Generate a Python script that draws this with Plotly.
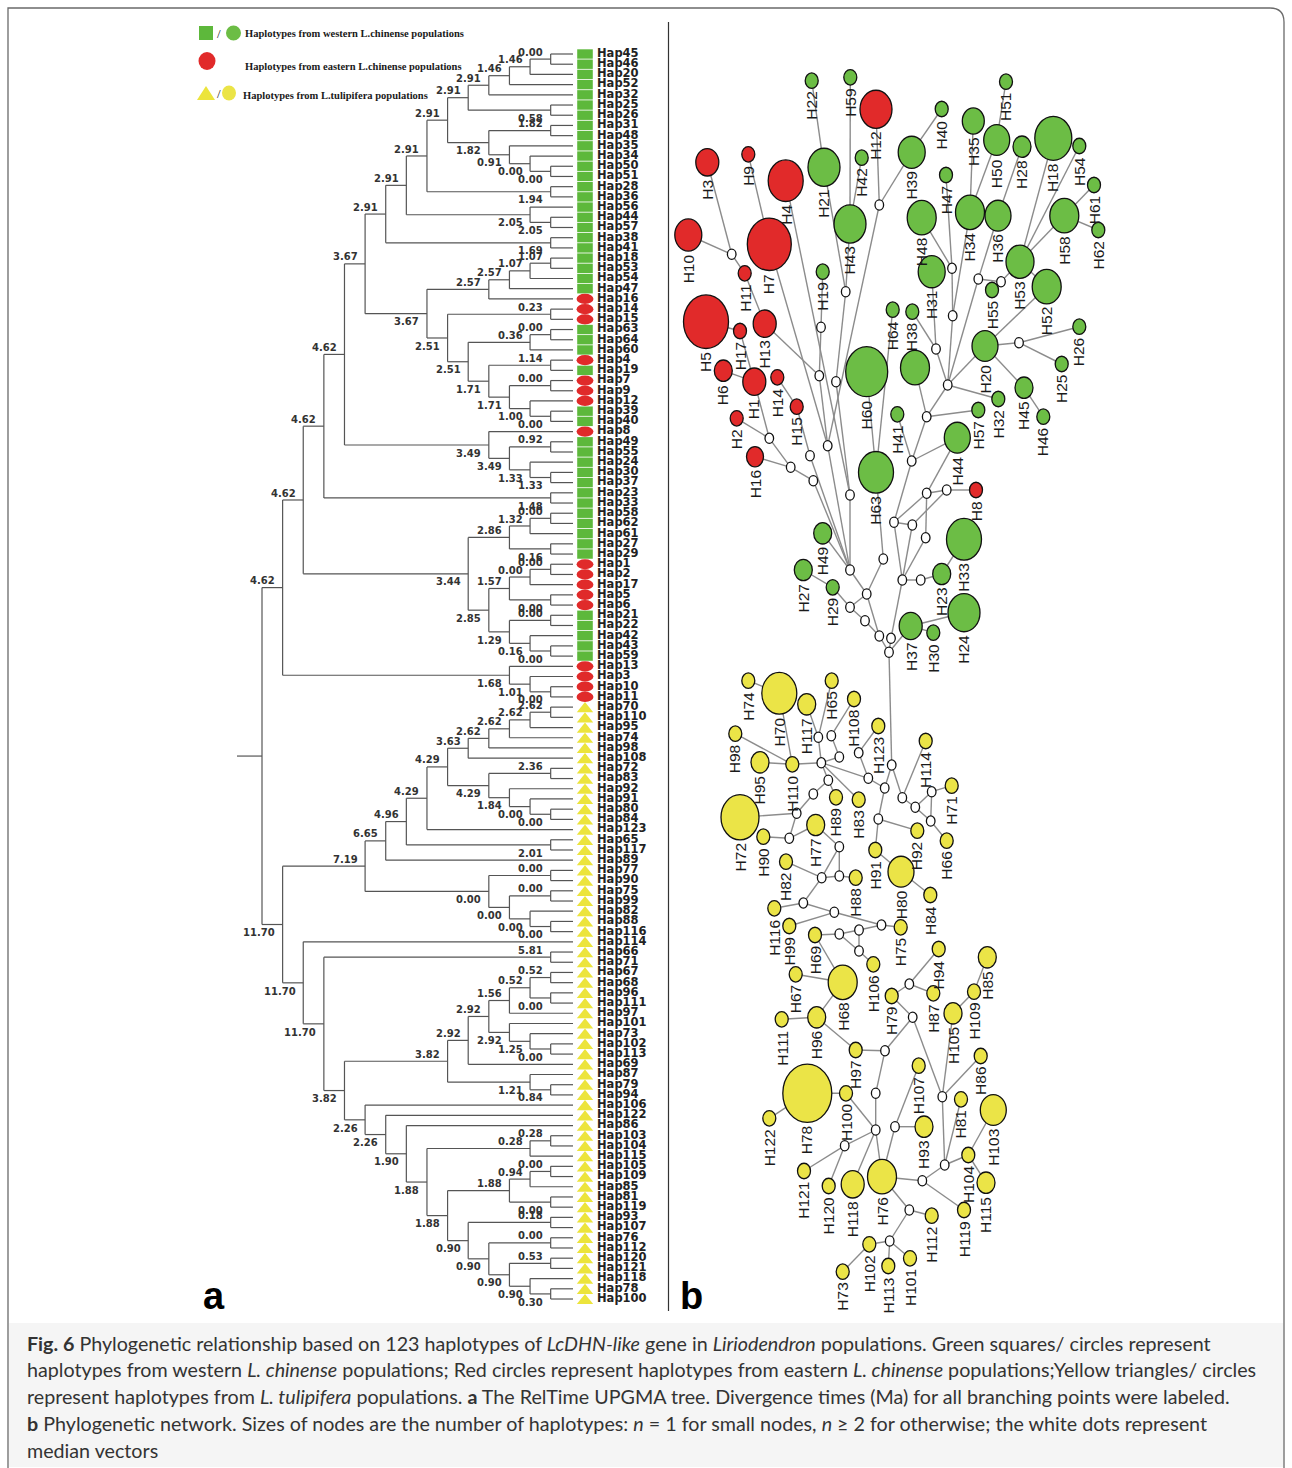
import plotly.graph_objects as go

W, H = 1292, 1468

# ======================= DATA =======================
# ---- Panel a: RelTime UPGMA tree (topology + divergence-time labels) ----
w_468 = "(((((Hap45,Hap46)0.00,Hap20)1.46,Hap52)1.46,Hap32)2.91,(Hap25,Hap26)0.58)2.91"
w_488 = "((Hap31,Hap48)1.82,(Hap35,(Hap34,(Hap50,Hap51)0.00)0.00)0.91)1.82"
w_447 = f"({w_468},{w_488})2.91"
w_427 = f"({w_447},(Hap28,Hap36)1.94)2.91"
w_407 = f"({w_427},(Hap56,(Hap44,Hap57)2.05)2.05)2.91"
w_F = f"({w_407},(Hap38,Hap41)1.69)2.91"
g_up = "((((Hap18,Hap53)1.07,Hap54)1.07,Hap47)2.57,Hap16)2.57"
g_509 = "((Hap7,Hap9)0.00,(Hap12,(Hap39,Hap40)0.00)1.00)1.71"
g_488 = f"((Hap4,Hap19)1.14,{g_509})1.71"
g_468 = f"(((Hap63,Hap64)0.00,Hap60)0.36,{g_488})2.51"
g_low = f"((Hap14,Hap15)0.23,{g_468})2.51"
w_G = f"({g_up},{g_low})3.67"
w_E = f"({w_F},{w_G})3.67"
w_H8 = "(Hap8,((Hap49,Hap55)0.92,(Hap24,(Hap30,Hap37)1.33)1.33)3.49)3.49"
w_D = f"({w_E},{w_H8})4.62"
w_C = f"({w_D},(Hap23,Hap33)1.48)4.62"
n344_up = "(((Hap58,Hap62)0.00,Hap61)1.32,(Hap27,Hap29)0.16)2.86"
n344_lo = ("((((Hap1,Hap2)0.00,Hap17)0.00,(Hap5,Hap6)0.00)1.57,"
           "((Hap21,Hap22)0.00,(Hap42,(Hap43,Hap59)0.00)0.16)1.29)2.85")
w_344 = f"({n344_up},{n344_lo})3.44"
w_B = f"({w_C},{w_344})4.62"
w_13 = "(Hap13,(Hap3,(Hap10,Hap11)0.00)1.01)1.68"
clade_chinense = f"({w_B},{w_13})4.62"

t_468 = "(((((Hap70,Hap110)2.62,Hap95)2.62,Hap74)2.62,Hap98)2.62,Hap108)3.63"
t_488 = "((Hap72,Hap83)2.36,(Hap92,(Hap91,(Hap80,Hap84)0.00)0.00)1.84)4.29"
t_427 = f"(({t_468},{t_488})4.29,Hap123)4.29"
t_386 = f"(({t_427},(Hap65,Hap117)2.01)4.96,Hap89)6.65"
t_488b = "((Hap77,Hap90)0.00,((Hap75,Hap99)0.00,(Hap82,(Hap88,Hap116)0.00)0.00)0.00)0.00"
t_719 = f"({t_386},{t_488b})7.19"
c_530 = "((Hap67,Hap68)0.52,(Hap96,Hap111)0.00)0.52"
c_488 = f"(({c_530},Hap97)1.56,(Hap101,(Hap73,(Hap102,Hap113)0.00)1.25)2.92)2.92"
c_447 = f"(({c_488},Hap69)2.92,(Hap87,(Hap79,Hap94)0.84)1.21)3.82"
d_509 = "((Hap120,Hap121)0.53,(Hap118,(Hap78,Hap100)0.30)0.90)0.90"
d_468 = f"((Hap93,Hap107)0.18,((Hap76,Hap112)0.00,{d_509})0.90)0.90"
d_447 = f"((((Hap105,Hap109)0.00,Hap85)0.94,(Hap81,Hap119)0.00)1.88,{d_468})1.88"
d_427 = f"(((Hap103,Hap104)0.28,Hap115)0.28,{d_447})1.88"
d_365 = f"(Hap106,(Hap122,(Hap86,{d_427})1.90)2.26)2.26"
t_345 = f"({c_447},{d_365})3.82"
t_303 = f"(Hap114,((Hap66,Hap71)5.81,{t_345})11.70)11.70"
clade_tulipifera = f"({t_719},{t_303})11.70"
tree_newick = f"({clade_chinense},{clade_tulipifera});"

eastern_haps = list(range(1, 18))      # red
western_haps = list(range(18, 65))     # green
tulipifera_haps = list(range(65, 124)) # yellow

# ---- Panel b: haplotype network (layout coordinates, node size = diameter) ----
net_red = [("H12", 876, 109.3, 32), ("H3", 707.3, 162.3, 23), ("H9", 748.3, 154.3, 13),
           ("H4", 785.7, 180.7, 35), ("H10", 688.3, 235, 27), ("H7", 769.3, 244.3, 44),
           ("H11", 744.7, 273.3, 13), ("H5", 706, 321.7, 45), ("H17", 740, 331, 13),
           ("H13", 764.7, 323.7, 23), ("H6", 723.3, 370.7, 18), ("H1", 754.3, 381.7, 23),
           ("H14", 777.3, 377.3, 13), ("H15", 796.7, 406.7, 13), ("H2", 736.7, 418.3, 13),
           ("H16", 755, 456.7, 17), ("H8", 976, 490, 13)]
net_green = [("H22", 811.7, 80.7, 13), ("H59", 850.3, 77.3, 13), ("H40", 941.7, 109, 13),
             ("H35", 973.3, 121, 22), ("H51", 1006, 81.7, 13), ("H50", 996.7, 140, 26),
             ("H28", 1022, 146.7, 18), ("H18", 1053.3, 138.3, 37), ("H54", 1079.3, 146, 13),
             ("H61", 1094, 185, 13), ("H62", 1098.3, 230, 13), ("H58", 1064.3, 215.7, 29),
             ("H21", 824, 167.3, 32), ("H42", 861.7, 157.7, 13), ("H39", 911.7, 152.3, 27),
             ("H47", 946, 175, 13), ("H43", 850, 224, 32), ("H48", 921.7, 217.7, 29),
             ("H34", 970, 212.3, 29), ("H36", 998, 215.7, 26), ("H53", 1020, 261.7, 28),
             ("H19", 822.7, 271.7, 13), ("H31", 931.7, 271.7, 27), ("H52", 1046.7, 286.7, 29),
             ("H55", 992, 290, 13), ("H64", 892.7, 309.7, 13), ("H38", 912.3, 311.7, 13),
             ("H20", 985, 346, 26), ("H26", 1079.3, 326.7, 13), ("H25", 1061.7, 364, 13),
             ("H60", 866.7, 371.7, 42), ("H56", 915, 367.7, 29), ("H41", 897.3, 414.3, 13),
             ("H57", 978.3, 410, 13), ("H32", 998.3, 399, 13), ("H45", 1024, 387.7, 18),
             ("H46", 1043.3, 416.7, 13), ("H44", 957.3, 437.7, 26), ("H63", 876, 472.3, 35),
             ("H33", 964, 539.3, 35), ("H49", 822.7, 533.3, 18), ("H27", 803.3, 570, 18),
             ("H29", 832.7, 587.3, 13), ("H23", 941.7, 574, 18), ("H24", 964, 612.7, 32),
             ("H37", 910.7, 626, 23), ("H30", 933.3, 632.7, 13)]
net_yellow = [("H74", 748.3, 680.7, 13), ("H70", 779.3, 693.3, 35), ("H65", 831.7, 680.7, 13),
              ("H117", 806.7, 704.3, 18), ("H108", 854, 699, 13), ("H123", 878.3, 726, 13),
              ("H98", 735.3, 733.7, 13), ("H114", 925.7, 741, 13), ("H95", 760, 762.3, 18),
              ("H110", 792.3, 764.3, 13), ("H71", 951.7, 785.7, 13), ("H89", 836, 797.3, 13),
              ("H83", 858.7, 799.7, 13), ("H72", 740, 817.3, 38), ("H90", 763.3, 836.7, 13),
              ("H77", 815.7, 825, 18), ("H92", 917.3, 830.7, 13), ("H66", 946.7, 840.7, 13),
              ("H91", 875.3, 850, 13), ("H80", 901, 871.7, 26), ("H82", 786, 861.7, 13),
              ("H88", 855.7, 877.7, 13), ("H84", 930.3, 895, 13), ("H116", 774.3, 908.3, 13),
              ("H99", 789.3, 926, 13), ("H75", 900.7, 927.3, 13), ("H69", 815, 935, 13),
              ("H106", 873.3, 964.3, 13), ("H67", 795.7, 974.3, 13), ("H68", 842.7, 982.3, 29),
              ("H94", 938.7, 949, 13), ("H85", 987.3, 957.3, 18), ("H79", 891.7, 996, 13),
              ("H87", 933.3, 993.3, 13), ("H109", 974, 991.7, 13), ("H105", 953, 1013.3, 18),
              ("H111", 781.7, 1019.3, 13), ("H96", 816.7, 1017.3, 18), ("H97", 855.7, 1050, 13),
              ("H86", 980.7, 1056, 13), ("H107", 918.7, 1065.7, 13), ("H78", 807.3, 1093.3, 49),
              ("H100", 846, 1093.3, 13), ("H81", 961, 1099.3, 13), ("H103", 993.3, 1110, 26),
              ("H122", 769.3, 1118.3, 13), ("H93", 924, 1126.7, 18), ("H121", 804, 1171, 13),
              ("H120", 828.7, 1186, 13), ("H118", 852.7, 1184.3, 23), ("H76", 882, 1176.7, 29),
              ("H104", 968.3, 1155, 13), ("H115", 986, 1182.7, 18), ("H119", 964, 1210, 13),
              ("H112", 931.7, 1215.7, 13), ("H102", 869.3, 1244.3, 13), ("H113", 888.3, 1266, 13),
              ("H101", 910, 1258.3, 13), ("H73", 842.7, 1271.7, 13)]
net_median = [("m1", 879.3, 205), ("m2", 731.7, 254.3), ("m3", 952, 268.3), ("m4", 978.3, 279),
              ("m5", 1001, 281.7), ("m6", 845.7, 291.7), ("m7", 952.7, 315.7), ("m8", 821, 327.3),
              ("m9", 1019, 342.7), ("m10", 936, 349), ("m11", 819.3, 375.7), ("m12", 836, 381.7),
              ("m13", 947.7, 385), ("m14", 926.7, 416.7), ("m15", 769.3, 438.3), ("m16", 827.7, 445.7),
              ("m17", 810, 455.7), ("m18", 911.7, 461), ("m19", 790.7, 467.3), ("m20", 813.3, 480.7),
              ("m21", 850, 495), ("m22", 926.7, 493.3), ("m23", 946.7, 490), ("m24", 894, 522.3),
              ("m25", 912.3, 525), ("m26", 925.7, 537.7), ("m27", 883.3, 559), ("m28", 850, 570),
              ("m29", 902.3, 580), ("m30", 920.7, 580), ("m31", 866.7, 594), ("m32", 850, 607.3),
              ("m33", 865, 620.7), ("m34", 879.3, 636), ("m35", 891, 638.3), ("m36", 889, 652.3),
              ("t1", 818.3, 737.3), ("t2", 831.3, 735.7), ("t3", 858.7, 752.7), ("t4", 839.3, 757),
              ("t5", 821.3, 762.7), ("t6", 891.7, 765), ("t7", 868.3, 778.3), ("t8", 828.3, 780.3),
              ("t9", 884.7, 788), ("t10", 931.7, 791.7), ("t11", 813.3, 794), ("t12", 902.3, 797.7),
              ("t13", 915.3, 807.3), ("t14", 796.7, 813.3), ("t15", 878.3, 819), ("t16", 930.7, 821),
              ("t17", 789.3, 838.3), ("t18", 839.3, 846.7), ("t19", 839.3, 876), ("t20", 821.7, 877.7),
              ("t21", 803.3, 903), ("t22", 834.3, 912.3), ("t23", 881.5, 925), ("t24", 859, 930),
              ("t25", 839.3, 934), ("t26", 859, 951), ("t27", 909.3, 984), ("t28", 912.7, 1017.3),
              ("t29", 885, 1050.7), ("t30", 875.7, 1093.3), ("t31", 942.3, 1096.7), ("t32", 895, 1126.7),
              ("t33", 875.7, 1130), ("t34", 844.7, 1145.7), ("t35", 944.7, 1165), ("t36", 922.3, 1180.7),
              ("t37", 909.3, 1210), ("t38", 889.7, 1241)]
net_edges = [
    ("H22", "H21"), ("H21", "m6"), ("H43", "m6"), ("H59", "H43"), ("H42", "H43"),
    ("H12", "m1"), ("H39", "m1"), ("H40", "H39"), ("m1", "m16"),
    ("H3", "m2"), ("H10", "m2"), ("m2", "H11"), ("H11", "H13"), ("H13", "m11"),
    ("H9", "H7"), ("H7", "m16"), ("H4", "m21"), ("H5", "H17"), ("H17", "H1"), ("H6", "H1"),
    ("H1", "m15"), ("H2", "m15"), ("m15", "m19"), ("H16", "m19"), ("m19", "m20"), ("m20", "m28"),
    ("H14", "H15"), ("H15", "m17"), ("m17", "m28"), ("H19", "m8"), ("m8", "m11"), ("m6", "m12"),
    ("m11", "m16"), ("m12", "m21"), ("m16", "m28"), ("m21", "m28"),
    ("H63", "m27"), ("H64", "H63"), ("H60", "H63"), ("m27", "m31"), ("m28", "m31"), ("H49", "m28"),
    ("H27", "H29"), ("H29", "m32"), ("m32", "m31"), ("m32", "m33"), ("m33", "m34"), ("m31", "m34"),
    ("m34", "m36"), ("m35", "m36"), ("m35", "m29"), ("m36", "H37"), ("H37", "H24"), ("H37", "H30"),
    ("m29", "m30"), ("m30", "H23"), ("H23", "H33"), ("m29", "m24"), ("m29", "m25"), ("m29", "m26"),
    ("m24", "m25"), ("m24", "m22"), ("m25", "m23"), ("m26", "m22"), ("m22", "m23"), ("m23", "H8"),
    ("m18", "m24"), ("m18", "H44"), ("m18", "H41"), ("m18", "m14"), ("H44", "m22"), ("m14", "H57"),
    ("H56", "m14"), ("m14", "m13"), ("m13", "H20"), ("m13", "H32"), ("m13", "m10"), ("m13", "m7"),
    ("m13", "m4"), ("m10", "H38"), ("m10", "H31"), ("H48", "m3"), ("H47", "m3"), ("m3", "m7"),
    ("H34", "m7"), ("H35", "H34"), ("H50", "H34"), ("H51", "H50"), ("H28", "H36"), ("H36", "m4"),
    ("m4", "m5"), ("m5", "H53"), ("H55", "m5"), ("H53", "H18"), ("H53", "H58"), ("H53", "H54"),
    ("H58", "H61"), ("H58", "H62"), ("H52", "H20"), ("H53", "H52"), ("H20", "m9"), ("m9", "H26"),
    ("m9", "H25"), ("H20", "H45"), ("H45", "H46"),
    ("m36", "t6"),
    ("H74", "H70"), ("H70", "H110"), ("H98", "H110"), ("H95", "H110"), ("H110", "t5"),
    ("H117", "t1"), ("H65", "t1"), ("H108", "t2"), ("t1", "t5"), ("t2", "t4"), ("t4", "t5"),
    ("t5", "t7"), ("H123", "t3"), ("t3", "t7"), ("t7", "t9"), ("t9", "t15"), ("t6", "t9"),
    ("t6", "t12"), ("H114", "t12"), ("t12", "t13"), ("t13", "t10"), ("t10", "H71"), ("t10", "t16"),
    ("t13", "t16"), ("t16", "H66"), ("t15", "H92"), ("t15", "H91"), ("H91", "H80"), ("H80", "H84"),
    ("t5", "t8"), ("t8", "t11"), ("t5", "H83"), ("t11", "t14"), ("t14", "H72"), ("t14", "t17"),
    ("H90", "t17"), ("t17", "H77"), ("H77", "t18"), ("t18", "t19"), ("t18", "t20"), ("t20", "t19"),
    ("t19", "H88"), ("H82", "t20"), ("t20", "t21"), ("t21", "H116"), ("t21", "t22"), ("t22", "t23"),
    ("t22", "H99"), ("H89", "t8"), ("t23", "H75"), ("t23", "t24"), ("t24", "t25"), ("t25", "H69"),
    ("t24", "t26"), ("t25", "t26"), ("t26", "H106"), ("H69", "H68"), ("H67", "H68"), ("H68", "H96"),
    ("H111", "H96"), ("H96", "H97"), ("H97", "t29"), ("t29", "t28"), ("t28", "H79"), ("H79", "t27"),
    ("t27", "H94"), ("t27", "H87"), ("t28", "t31"), ("H105", "t31"), ("H105", "H109"),
    ("H109", "H85"), ("H86", "t31"), ("t29", "t30"), ("t30", "t33"), ("H100", "t33"),
    ("H78", "H100"), ("H78", "H122"), ("t33", "H76"), ("H107", "t32"), ("t32", "H93"),
    ("t32", "H76"), ("t31", "t35"), ("H81", "t35"), ("H103", "H104"), ("H104", "t35"),
    ("H104", "H115"), ("t35", "t36"), ("t36", "H76"), ("t36", "H119"), ("H76", "t37"),
    ("t37", "H112"), ("t37", "t38"), ("t38", "H102"), ("t38", "H113"), ("t38", "H101"),
    ("H102", "H73"), ("t34", "H121"), ("t34", "H120"), ("t34", "t33"), ("H118", "t33"),
]
hidden_labels = ["H56"]

legend_texts = ["Haplotypes from western L.chinense populations",
                "Haplotypes from eastern L.chinense populations",
                "Haplotypes from L.tulipifera populations"]
caption_lines = [
    "<b>Fig. 6</b> Phylogenetic relationship based on 123 haplotypes of <i>LcDHN-like</i> gene in <i>Liriodendron</i> populations. Green squares/ circles represent",
    "haplotypes from western <i>L. chinense</i> populations; Red circles represent haplotypes from eastern <i>L. chinense</i> populations;Yellow triangles/ circles",
    "represent haplotypes from <i>L. tulipifera</i> populations. <b>a</b> The RelTime UPGMA tree. Divergence times (Ma) for all branching points were labeled.",
    "<b>b</b> Phylogenetic network. Sizes of nodes are the number of haplotypes: <i>n</i> = 1 for small nodes, <i>n</i> \u2265 2 for otherwise; the white dots represent",
    "median vectors",
]

# ======================= STYLE =======================
RED, GREEN, YELLOW = "#e12a2a", "#6cbd45", "#ebe447"
TREE_RED, TREE_GREEN, TREE_YELLOW = "#e02a2a", "#5db83b", "#ece43c"
PX_LEAF, STEP = 571.3, 20.62       # tree: px of level 0 and px per level
ROW0, ROW = 54.0, 10.205            # tree: px of first leaf row, px per row
ASPECT = 1.19                      # network ellipses height/width


def parse_newick(s):
    s = s.strip().rstrip(';')
    pos = [0]

    def read_label():
        st = pos[0]
        while pos[0] < len(s) and s[pos[0]] not in ',()':
            pos[0] += 1
        return s[st:pos[0]]

    def node():
        if s[pos[0]] == '(':
            pos[0] += 1
            kids = [node()]
            while s[pos[0]] == ',':
                pos[0] += 1
                kids.append(node())
            pos[0] += 1
            return {'kids': kids, 'label': read_label()}
        return {'kids': [], 'label': read_label()}
    return node()


root = parse_newick(tree_newick)
leaves = []


def layout(n):
    if not n['kids']:
        n['y'] = len(leaves)
        n['h'] = 0
        leaves.append(n)
        return
    for k in n['kids']:
        layout(k)
    n['h'] = max(k['h'] for k in n['kids']) + 1
    n['y'] = (n['kids'][0]['y'] + n['kids'][-1]['y']) / 2


layout(root)

LEAF_END = -1.7 / STEP
fig = go.Figure()

# ---- tree branches ----
tx, ty = [], []
node_labels = []


def draw(n):
    if not n['kids']:
        return
    x = n['h']
    tx.extend([x, x, None])
    ty.extend([n['kids'][0]['y'], n['kids'][-1]['y'], None])
    for i, k in enumerate(n['kids']):
        kx = LEAF_END if not k['kids'] else k['h']
        tx.extend([x, kx, None])
        ty.extend([k['y'], k['y'], None])
        if k['kids']:
            node_labels.append((k['h'], k['y'], k['label'], i == 0))
        draw(k)


draw(root)
tx.extend([(PX_LEAF - 237) / STEP, root['h'], None])
ty.extend([root['y'], root['y'], None])
fig.add_trace(go.Scatter(x=tx, y=ty, mode='lines', line=dict(color='#555555', width=1.2),
                         hoverinfo='skip', showlegend=False, xaxis='x', yaxis='y'))

annotations = []
for h, y, lab, upper in node_labels:
    annotations.append(dict(x=h + 5.5 / STEP, y=y + (-0.68 if upper else 0.8), text=lab,
                            xref='x', yref='y', showarrow=False, xanchor='right', yanchor='middle',
                            font=dict(family='DejaVu Sans', size=10, color='#333333', weight='bold')))

# leaf labels
fig.add_trace(go.Scatter(x=[(PX_LEAF - 597) / STEP] * len(leaves), y=[l['y'] for l in leaves],
                         text=[l['label'] for l in leaves], mode='text', textposition='middle right',
                         textfont=dict(family='DejaVu Sans', size=11.5, color='#222222', weight='bold'),
                         hoverinfo='skip', showlegend=False, xaxis='x', yaxis='y'))

shapes = []
cx = (PX_LEAF - 585) / STEP
hw = 7.8 / STEP
for l in leaves:
    num = int(l['label'][3:])
    y = l['y']
    if num in eastern_haps:
        shapes.append(dict(type='circle', xref='x', yref='y', x0=cx - hw - 0.03, x1=cx + hw + 0.03,
                           y0=y - 0.5, y1=y + 0.5, fillcolor=TREE_RED, line=dict(width=0)))
    elif num in western_haps:
        shapes.append(dict(type='rect', xref='x', yref='y', x0=cx - hw, x1=cx + hw,
                           y0=y - 0.46, y1=y + 0.46, fillcolor=TREE_GREEN, line=dict(width=0)))
    else:
        p = f"M {cx - hw - 0.02},{y + 0.5} L {cx},{y - 0.5} L {cx + hw + 0.02},{y + 0.5} Z"
        shapes.append(dict(type='path', xref='x', yref='y', path=p, fillcolor=TREE_YELLOW,
                           line=dict(width=0)))

# ---- network ----
pos = {}
for grp in (net_red, net_green, net_yellow):
    for name, x, y, d in grp:
        pos[name] = (x, y)
for name, x, y in net_median:
    pos[name] = (x, y)

ex, ey = [], []
for a, b in net_edges:
    ex.extend([pos[a][0], pos[b][0], None])
    ey.extend([pos[a][1], pos[b][1], None])
fig.add_trace(go.Scatter(x=ex, y=ey, mode='lines', line=dict(color='#8c8c8c', width=1.4),
                         hoverinfo='skip', showlegend=False, xaxis='x2', yaxis='y2'))

for grp, col in ((net_red, RED), (net_green, GREEN), (net_yellow, YELLOW)):
    for name, x, y, d in grp:
        hh = d * ASPECT
        shapes.append(dict(type='circle', xref='x2', yref='y2', x0=x - d / 2, x1=x + d / 2,
                           y0=y - hh / 2, y1=y + hh / 2, fillcolor=col,
                           line=dict(color='#111111', width=1.3)))
        if name not in hidden_labels:
            annotations.append(dict(x=x, y=y + hh / 2 + 1.5, xref='x2', yref='y2', text=name,
                                    textangle=-90, showarrow=False, xanchor='center', yanchor='top',
                                    font=dict(family='Liberation Sans', size=15.5, color='#1a1a1a')))
for name, x, y in net_median:
    shapes.append(dict(type='circle', xref='x2', yref='y2', x0=x - 4.3, x1=x + 4.3,
                       y0=y - 5.1, y1=y + 5.1, fillcolor='white',
                       line=dict(color='#111111', width=1.3)))

# ---- frame, divider, legend, panel letters, caption (page pixel frame = x2/y2) ----
shapes.append(dict(type='rect', xref='x2', yref='y2', x0=9, x1=1283, y0=1323, y1=1467,
                   fillcolor='#f5f5f5', line=dict(width=0), layer='below'))
shapes.append(dict(type='path', xref='x2', yref='y2',
                   path="M 8,1470 L 8,8 L 1270,8 Q 1284,8 1284,22 L 1284,1470",
                   line=dict(color='#6a6a6a', width=1.3)))
shapes.append(dict(type='line', xref='x2', yref='y2', x0=668.5, x1=668.5, y0=22, y1=1311,
                   line=dict(color='#333333', width=1.2)))
# legend symbols
shapes.append(dict(type='rect', xref='x2', yref='y2', x0=199, x1=213, y0=26, y1=40,
                   fillcolor=TREE_GREEN, line=dict(width=0)))
shapes.append(dict(type='circle', xref='x2', yref='y2', x0=226, x1=241, y0=25.5, y1=40.5,
                   fillcolor=GREEN, line=dict(width=0)))
shapes.append(dict(type='circle', xref='x2', yref='y2', x0=198.5, x1=215.5, y0=52, y1=70,
                   fillcolor=RED, line=dict(width=0)))
shapes.append(dict(type='path', xref='x2', yref='y2', path="M 197,100 L 206,86 L 215,100 Z",
                   fillcolor=TREE_YELLOW, line=dict(width=0)))
shapes.append(dict(type='circle', xref='x2', yref='y2', x0=222, x1=236, y0=85.5, y1=100.5,
                   fillcolor=YELLOW, line=dict(width=0)))
for xs, ys in ((219, 33), (219, 93)):
    annotations.append(dict(x=xs, y=ys, xref='x2', yref='y2', text='/', showarrow=False,
                            font=dict(family='Liberation Serif', size=13, color='#222222')))
for (xs, ys), t in zip(((243, 33), (243, 66), (241, 95)), legend_texts):
    annotations.append(dict(x=xs, y=ys, xref='x2', yref='y2', text=t, showarrow=False,
                            xanchor='left', yanchor='middle',
                            font=dict(family='Liberation Serif', size=10.5, color='#1a1a1a',
                                      weight='bold')))
for xs, t in ((214, 'a'), (691, 'b')):
    annotations.append(dict(x=xs, y=1296, xref='x2', yref='y2', text=t, showarrow=False,
                            xanchor='center', yanchor='middle',
                            font=dict(family='Liberation Sans', size=38, color='#000000',
                                      weight='bold')))
for i, t in enumerate(caption_lines):
    annotations.append(dict(x=25, y=1343 + i * 26.8, xref='x2', yref='y2', text=t,
                            showarrow=False, xanchor='left', yanchor='middle',
                            font=dict(family='Lato', size=19.7, color='#333333')))

fig.update_layout(
    width=W, height=H, margin=dict(l=0, r=0, t=0, b=0),
    paper_bgcolor='white', plot_bgcolor='rgba(0,0,0,0)', showlegend=False,
    xaxis=dict(domain=[0, 1], range=[PX_LEAF / STEP, (PX_LEAF - W) / STEP], visible=False,
               fixedrange=True),
    yaxis=dict(domain=[0, 1], range=[(H - ROW0) / ROW, -ROW0 / ROW], visible=False,
               fixedrange=True, anchor='x'),
    xaxis2=dict(domain=[0, 1], range=[0, W], visible=False, anchor='y2', fixedrange=True),
    yaxis2=dict(domain=[0, 1], range=[H, 0], visible=False, anchor='x2', fixedrange=True),
    shapes=shapes, annotations=annotations,
)
fig.write_html("out.html")
